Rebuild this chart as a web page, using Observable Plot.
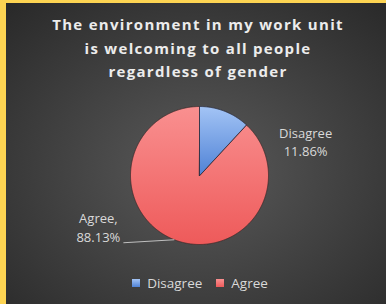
<!DOCTYPE html>
<html>
<head>
<meta charset="utf-8">
<script src="https://cdn.jsdelivr.net/npm/d3@7"></script>
<script src="https://cdn.jsdelivr.net/npm/@observablehq/plot@0.6"></script>
<style>
  html, body { margin: 0; padding: 0; background: #2a2a2a; overflow: hidden; }
  #frame {
    position: absolute; left: 0; top: 0; width: 420px; height: 320px; box-sizing: border-box;
    background: radial-gradient(ellipse 290px 230px at 200px 170px, #5a5a5a 0%, #3c3c3c 60%, #282828 100%);
    overflow: hidden; font-family: "Open Sans", sans-serif;
  }
  #bl { position: absolute; left: 0; top: 0; width: 6px; height: 320px; background: #fdd452; }
  #bt { position: absolute; left: 0; top: 0; width: 420px; height: 3px; background: #fdd452; }
  #title {
    position: absolute; left: 8px; top: 13px; width: 380px; text-align: center;
    color: #ececec; font-weight: bold; font-size: 15px; line-height: 23.5px; letter-spacing: 1.3px;
  }
  #chart { position: absolute; left: 6px; top: 3px; }
  #legend {
    position: absolute; left: 10px; top: 274px; width: 380px; text-align: center;
    color: #d9d9d9; font-size: 13.5px;
  }
  #legend span.item { display: inline-block; margin: 0 7px; }
  #legend span.sw { display: inline-block; width: 8px; height: 8px; margin-right: 7px; vertical-align: 1px; }
</style>
</head>
<body>
<div id="frame">
  <div id="title"></div>
  <div id="chart"></div>
  <div id="legend"></div>
  <div id="bl"></div>
  <div id="bt"></div>
</div>
<script>
const titleLines = ["The environment in my work unit", "is welcoming to all people", "regardless of gender"];
const categories = ["Disagree", "Agree"];
const percents = [11.86, 88.13];
const colorsTop = ["#a3c4f5", "#f99090"];
const colorsBottom = ["#4f82d6", "#ee5a5a"];

document.getElementById("title").innerHTML = titleLines.join("<br>");

const W = 380, H = 301;
const cx = 193, cy = 172, r = 69;

const pie = d3.pie().sort(null).value(d => d.value)(categories.map((c, i) => ({cat: c, value: percents[i], i})));

// polygon points for each slice (angle clockwise from 12 o'clock)
const pts = [];
pie.forEach(s => {
  pts.push({cat: s.data.cat, i: s.data.i, x: 0, y: 0});
  const n = Math.max(2, Math.ceil((s.endAngle - s.startAngle) / (Math.PI / 360)));
  for (let k = 0; k <= n; k++) {
    const a = s.startAngle + (s.endAngle - s.startAngle) * k / n;
    pts.push({cat: s.data.cat, i: s.data.i, x: Math.sin(a), y: Math.cos(a)});
  }
});

const mid = s => (s.startAngle + s.endAngle) / 2;
const labels = pie.map(s => ({
  cat: s.data.cat,
  x: Math.sin(mid(s)), y: Math.cos(mid(s)),
  text: s.data.i === 0 ? `${s.data.cat}\n${s.data.value.toFixed(2)}%` : `${s.data.cat},\n${s.data.value.toFixed(2)}%`
}));

const agree = pie[1];
const edge = {x: Math.sin(mid(agree)), y: Math.cos(mid(agree))};

const plot = Plot.plot({
  width: W, height: H, margin: 0,
  style: {background: "transparent", overflow: "visible"},
  x: {domain: [-1, 1], range: [cx - r, cx + r], axis: null},
  y: {domain: [-1, 1], range: [cy + r, cy - r], axis: null},
  marks: [
    Plot.line(pts.filter(d => d.i === 1), {x: "x", y: "y", curve: "linear-closed", fill: "url(#grad1)", stroke: "#3a2a2a", strokeWidth: 0.8}),
    Plot.line(pts.filter(d => d.i === 0), {x: "x", y: "y", curve: "linear-closed", fill: "url(#grad0)", stroke: "#2a2a3a", strokeWidth: 0.8}),
    Plot.link([edge], {x1: "x", y1: "y", x2: d => d.x - 51 / r, y2: d => d.y - 3 / r, stroke: "#bfbfbf", strokeWidth: 1}),
    Plot.text([labels[0]], {x: "x", y: "y", text: "text", dx: 81, dy: 30, fill: "#d9d9d9", fontSize: 13, lineHeight: 1.4, fontFamily: "Open Sans"}),
    Plot.text([labels[1]], {x: "x", y: "y", text: "text", dx: -76, dy: -13, fill: "#d9d9d9", fontSize: 13, lineHeight: 1.45, fontFamily: "Open Sans"})
  ]
});

// gradient definitions
const defs = d3.select(plot).insert("defs", ":first-child");
categories.forEach((c, i) => {
  const g = defs.append("linearGradient").attr("id", "grad" + i).attr("x1", 0).attr("y1", 0).attr("x2", 0).attr("y2", 1);
  g.append("stop").attr("offset", "0%").attr("stop-color", colorsTop[i]);
  g.append("stop").attr("offset", "100%").attr("stop-color", colorsBottom[i]);
});
document.getElementById("chart").appendChild(plot);

const legend = document.getElementById("legend");
categories.forEach((c, i) => {
  const item = document.createElement("span");
  item.className = "item";
  const sw = document.createElement("span");
  sw.className = "sw";
  sw.style.background = `linear-gradient(${colorsTop[i]}, ${colorsBottom[i]})`;
  item.appendChild(sw);
  item.appendChild(document.createTextNode(c));
  legend.appendChild(item);
});
</script>
</body>
</html>
